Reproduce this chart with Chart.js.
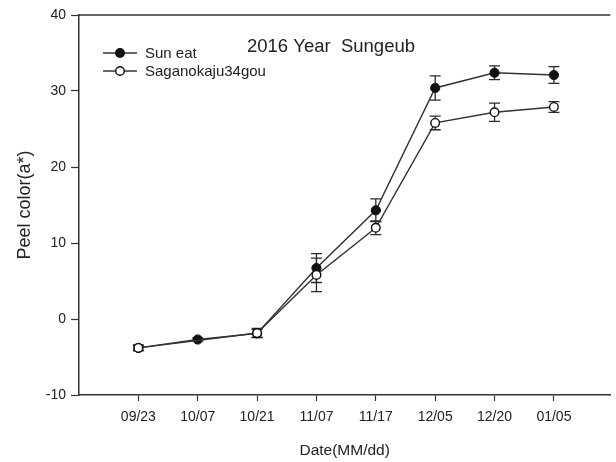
<!DOCTYPE html>
<html>
<head>
<meta charset="utf-8">
<title>Peel color 2016</title>
<script src="https://cdn.jsdelivr.net/npm/chart.js@4.4.1/dist/chart.umd.min.js"></script>
<style>
  html, body { margin: 0; padding: 0; background: #fff; }
  #wrap { width: 616px; height: 462px; }
</style>
</head>
<body>
<div id="wrap"><canvas id="peelChart"></canvas></div>
<script>
// sampling dates and peel colour (a*) means with standard errors
const dates = ['09/23', '10/07', '10/21', '11/07', '11/17', '12/05', '12/20', '01/05'];
const sunEat = [-3.8, -2.7, -1.9, 6.7, 14.3, 30.4, 32.4, 32.1];
const sunEatErr = [0.3, 0.2, 0.5, 1.9, 1.5, 1.6, 0.9, 1.1];
const saga = [-3.8, null, -1.85, 5.8, 12.0, 25.8, 27.2, 27.9];
const sagaErr = [0.4, 0, 0.6, 2.2, 0.9, 0.9, 1.2, 0.7];
const yTicks = [-10, 0, 10, 20, 30, 40];

const FONT = "'Liberation Sans', Arial, sans-serif";
const INK = '#222';

const toPoints = arr => arr.map((v, i) => ({ x: i + 1, y: v }));

// vertical error bars with caps, drawn under the markers
const errorBars = {
    id: 'errorBars',
    beforeDatasetsDraw(chart) {
        const { ctx, scales: { x, y } } = chart;
        ctx.save();
        ctx.strokeStyle = '#2a2a2a';
        ctx.lineWidth = 1.3;
        chart.data.datasets.forEach(ds => {
            ds.data.forEach((p, i) => {
                const e = ds.errors[i];
                if (p.y === null || !e) return;
                const px = x.getPixelForValue(p.x);
                const top = y.getPixelForValue(p.y + e);
                const bot = y.getPixelForValue(p.y - e);
                ctx.beginPath();
                ctx.moveTo(px, top); ctx.lineTo(px, bot);
                ctx.moveTo(px - 5.5, top); ctx.lineTo(px + 5.5, top);
                ctx.moveTo(px - 5.5, bot); ctx.lineTo(px + 5.5, bot);
                ctx.stroke();
            });
        });
        ctx.restore();
    }
};

// top frame line, title and the line+marker legend inside the plot
const frameAndLegend = {
    id: 'frameAndLegend',
    afterDraw(chart) {
        const { ctx, chartArea } = chart;
        ctx.save();
        ctx.strokeStyle = '#333';
        ctx.lineWidth = 1.5;
        ctx.beginPath();
        ctx.moveTo(chartArea.left, chartArea.top);
        ctx.lineTo(chartArea.right, chartArea.top);
        ctx.stroke();

        ctx.fillStyle = INK;
        ctx.font = '18.5px ' + FONT;
        ctx.textAlign = 'center';
        ctx.textBaseline = 'middle';
        ctx.fillText('2016 Year  Sungeub', 331, 47);

        const rows = [chart.data.datasets[1], chart.data.datasets[0]];
        rows.forEach((ds, k) => {
            const yy = 53 + k * 18;
            ctx.strokeStyle = ds.borderColor;
            ctx.lineWidth = 1.4;
            ctx.beginPath();
            ctx.moveTo(103, yy); ctx.lineTo(137, yy);
            ctx.stroke();
            ctx.beginPath();
            ctx.arc(120, yy, 4.3, 0, Math.PI * 2);
            ctx.fillStyle = ds.pointBackgroundColor;
            ctx.fill();
            ctx.lineWidth = 1.4;
            ctx.strokeStyle = '#111';
            ctx.stroke();
            ctx.fillStyle = INK;
            ctx.font = '15px ' + FONT;
            ctx.textAlign = 'left';
            ctx.fillText(ds.label, 145, yy + 1);
        });
        ctx.restore();
    }
};

new Chart(document.getElementById('peelChart'), {
    type: 'line',
    data: {
        datasets: [
            {
                label: 'Saganokaju34gou',
                data: toPoints(saga),
                errors: sagaErr,
                order: 0,
                borderColor: '#333',
                borderWidth: 1.4,
                pointRadius: 4.3,
                pointBorderWidth: 1.4,
                pointBorderColor: '#111',
                pointBackgroundColor: '#fff',
                spanGaps: true,
                tension: 0
            },
            {
                label: 'Sun eat',
                data: toPoints(sunEat),
                errors: sunEatErr,
                order: 1,
                borderColor: '#333',
                borderWidth: 1.4,
                pointRadius: 4.6,
                pointBorderWidth: 1,
                pointBorderColor: '#111',
                pointBackgroundColor: '#111',
                tension: 0
            }
        ]
    },
    options: {
        responsive: true,
        maintainAspectRatio: false,
        animation: false,
        layout: { padding: { top: 15, right: 0, bottom: 0, left: 0 } },
        plugins: {
            legend: { display: false },
            tooltip: { enabled: false }
        },
        scales: {
            x: {
                type: 'linear',
                min: 0,
                max: 8.95,
                afterBuildTicks: s => { s.ticks = dates.map((d, i) => ({ value: i + 1 })); },
                afterFit: s => { s.height = 67; },
                ticks: {
                    callback: v => dates[v - 1],
                    autoSkip: false,
                    maxRotation: 0,
                    padding: 8,
                    color: INK,
                    font: { family: FONT, size: 14 }
                },
                grid: { drawOnChartArea: false, tickLength: 6, tickColor: '#333', tickWidth: 1.2 },
                border: { color: '#333', width: 1.5 },
                title: {
                    display: true,
                    text: 'Date(MM/dd)',
                    color: INK,
                    font: { family: FONT, size: 15.5 },
                    padding: { top: 0, bottom: 2 }
                }
            },
            y: {
                min: -10,
                max: 40,
                afterBuildTicks: s => { s.ticks = yTicks.map(v => ({ value: v })); },
                afterFit: s => { s.width = 79; },
                ticks: {
                    padding: 5,
                    color: INK,
                    font: { family: FONT, size: 14 }
                },
                grid: { drawOnChartArea: false, tickLength: 8, tickColor: '#333', tickWidth: 1.2 },
                border: { color: '#333', width: 1.5 },
                title: {
                    display: true,
                    text: 'Peel color(a*)',
                    color: INK,
                    font: { family: FONT, size: 18 },
                    padding: { top: 14, bottom: 0 }
                }
            }
        }
    },
    plugins: [errorBars, frameAndLegend]
});
</script>
</body>
</html>
